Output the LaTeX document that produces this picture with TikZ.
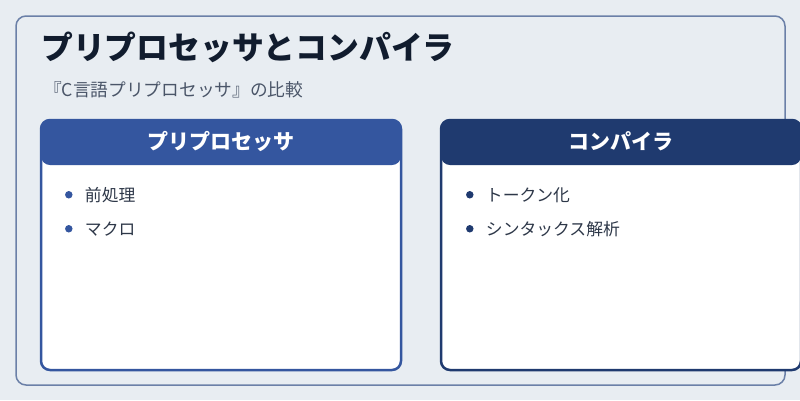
\documentclass[tikz,border=0pt]{standalone}
\usepackage{fontspec}
\setmainfont{Noto Sans CJK JP}
\usetikzlibrary{positioning}

\definecolor{pageBg}{HTML}{E8EDF2}
\definecolor{frameLine}{HTML}{6B80A8}
\definecolor{preBlue}{HTML}{34569F}
\definecolor{compNavy}{HTML}{1F3A6F}
\definecolor{titleInk}{HTML}{111C2E}
\definecolor{subInk}{HTML}{4A5568}
\definecolor{itemInk}{HTML}{2D3748}

\begin{document}
\begin{tikzpicture}[
        x=1pt, y=-1pt,
        frame/.style={
            % The shape
            rectangle,
            rounded corners = 10pt,
            % The border
            line width = 1.5pt,
            draw = frameLine
        },
        card/.style={
            % The shape
            rectangle,
            rounded corners = 9pt,
            minimum width = 360pt,
            minimum height = 250pt,
            inner sep = 0pt,
            % The border
            line width = 2.5pt,
            draw = #1,
            % The color
            fill = white,
            % The header band
            path picture = {
                \fill[#1] (path picture bounding box.north west) rectangle
                ([yshift=-45pt]path picture bounding box.north east);
            }
        },
        cardTitle/.style={
            % The color
            color = white,
            % Font
            font = \fontsize{21pt}{25pt}\selectfont\bfseries
        },
        item/.style={
            % The shape
            inner sep = 0pt,
            anchor = west,
            % The color
            color = itemInk,
            % Font
            font = \fontsize{16.8pt}{20pt}\selectfont
        },
        dot/.style={
            % The shape
            circle,
            minimum size = 7.5pt,
            inner sep = 0pt,
            % The color
            fill = #1
        },
    ]
        \useasboundingbox[fill=pageBg] (0,0) rectangle (800,400);

        \node (outer) [frame,minimum width=769pt,minimum height=369pt] at (400.5,200.5) {};

        \node (title) [anchor=west,inner sep=0pt,color=titleInk,
        font=\fontsize{31.8pt}{36pt}\selectfont\bfseries] at (41,47) {プリプロセッサとコンパイラ};
        \node (subtitle) [anchor=west,inner sep=0pt,color=subInk,
        font=\fontsize{17.7pt}{21pt}\selectfont] at (44,90) {『C言語プリプロセッサ』の比較};

        % Left card
        \node (pre) [card=preBlue] at (221,245) {};
        \node (preTitle) [cardTitle] at ([yshift=-22.5pt]pre.north) {プリプロセッサ};
        \node (preItemA) [item] at ([xshift=45pt,yshift=-76pt]pre.north west) {前処理};
        \node (preDotA) [dot=preBlue,left=12pt of preItemA] {};
        \node (preItemB) [item,below=34pt of preItemA.west,anchor=west] {マクロ};
        \node (preDotB) [dot=preBlue,left=12pt of preItemB] {};

        % Right card
        \node (comp) [card=compNavy] at (621,245) {};
        \node (compTitle) [cardTitle] at ([yshift=-22.5pt]comp.north) {コンパイラ};
        \node (compItemA) [item] at ([xshift=46pt,yshift=-76pt]comp.north west) {トークン化};
        \node (compDotA) [dot=compNavy,left=12pt of compItemA] {};
        \node (compItemB) [item,below=34pt of compItemA.west,anchor=west] {シンタックス解析};
        \node (compDotB) [dot=compNavy,left=12pt of compItemB] {};

    \end{tikzpicture}
\end{document}
